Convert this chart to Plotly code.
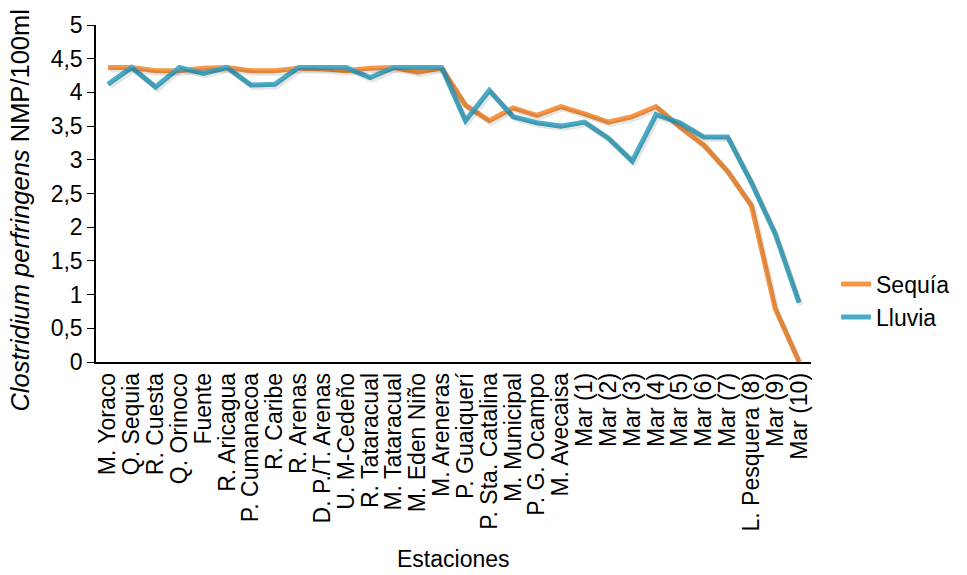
import plotly.graph_objects as go

estaciones = ["M. Yoraco", "Q. Sequia", "R. Cuesta", "Q. Orinoco", "Fuente", "R. Aricagua",
              "P. Cumanacoa", "R. Caribe", "R. Arenas", "D. P./T. Arenas", "U. M-Cedeño",
              "R. Tataracual", "M. Tataracual", "M. Eden Niño", "M. Areneras", "P. Guaiquerí",
              "P. Sta. Catalina", "M. Municipal", "P. G. Ocampo", "M. Avecaisa",
              "Mar (1)", "Mar (2)", "Mar (3)", "Mar (4)", "Mar (5)", "Mar (6)", "Mar (7)",
              "L. Pesquera (8)", "Mar (9)", "Mar (10)"]

sequia = [4.37, 4.37, 4.32, 4.32, 4.36, 4.37, 4.32, 4.32, 4.36, 4.35,
          4.32, 4.36, 4.37, 4.30, 4.36, 3.81, 3.58, 3.77, 3.66, 3.79,
          3.68, 3.56, 3.64, 3.79, 3.49, 3.22, 2.83, 2.32, 0.79, 0.0]

lluvia = [4.12, 4.37, 4.08, 4.37, 4.28, 4.37, 4.11, 4.12, 4.37, 4.37,
          4.37, 4.22, 4.37, 4.37, 4.37, 3.58, 4.03, 3.64, 3.55, 3.50,
          3.56, 3.32, 2.98, 3.67, 3.55, 3.34, 3.34, 2.66, 1.90, 0.88]

FONT = "Liberation Sans, Arial, sans-serif"
ORANGE = "#F79646"
BLUE = "#4BACC6"
SHADOW = "rgba(0,0,0,0.10)"

# shadow offset (in axis units) for the overlay axes: ~2px right/down
XS = 2.0 / (718 / 30)
YS = 2.5 / (342 / 5)

fig = go.Figure()
# soft drop shadows drawn on overlay axes
for vals in (sequia, lluvia):
    fig.add_trace(go.Scatter(x=estaciones, y=vals, mode="lines", showlegend=False,
                             hoverinfo="skip", xaxis="x2", yaxis="y2",
                             line=dict(color=SHADOW, width=5)))
fig.add_trace(go.Scatter(x=estaciones, y=sequia, mode="lines", name="Sequía",
                         line=dict(color=ORANGE, width=5)))
fig.add_trace(go.Scatter(x=estaciones, y=lluvia, mode="lines", name="Lluvia",
                         line=dict(color=BLUE, width=5)))

fig.update_layout(
    width=967, height=575,
    margin=dict(l=96, r=153, t=20, b=213),
    paper_bgcolor="white", plot_bgcolor="white",
    separators=",.",
    font=dict(family=FONT, color="#000000", size=23),
    showlegend=True,
    legend=dict(x=1.035, y=0.295, xanchor="left", yanchor="top",
                font=dict(size=23), itemwidth=30, bgcolor="rgba(0,0,0,0)"),
    xaxis=dict(type="category", showline=True, linecolor="black", linewidth=1.5,
               ticks="", tickangle=-90, showgrid=False, tickfont=dict(size=23),
               tickmode="linear", dtick=1, range=[-0.5, 29.5]),
    yaxis=dict(range=[0, 5], dtick=0.5, tick0=0, showline=True, linecolor="black",
               linewidth=1.5, ticks="outside", ticklen=7, tickcolor="black",
               showgrid=False, zeroline=False, tickfont=dict(size=23),
               tickformat=".1~f"),
    xaxis2=dict(type="category", overlaying="x", visible=False,
                range=[-0.5 - XS, 29.5 - XS]),
    yaxis2=dict(overlaying="y", visible=False, range=[YS, 5 + YS]),
    annotations=[
        dict(text="<i>Clostridium perfringens</i> NMP/100ml", textangle=-90,
             xref="paper", yref="paper", x=-0.106, y=0.45,
             xanchor="center", yanchor="middle", showarrow=False,
             font=dict(size=25.5)),
        dict(text="Estaciones", xref="paper", yref="paper", x=0.5, y=-0.585,
             xanchor="center", yanchor="middle", showarrow=False,
             font=dict(size=23)),
    ],
)

fig.write_html("out.html")
